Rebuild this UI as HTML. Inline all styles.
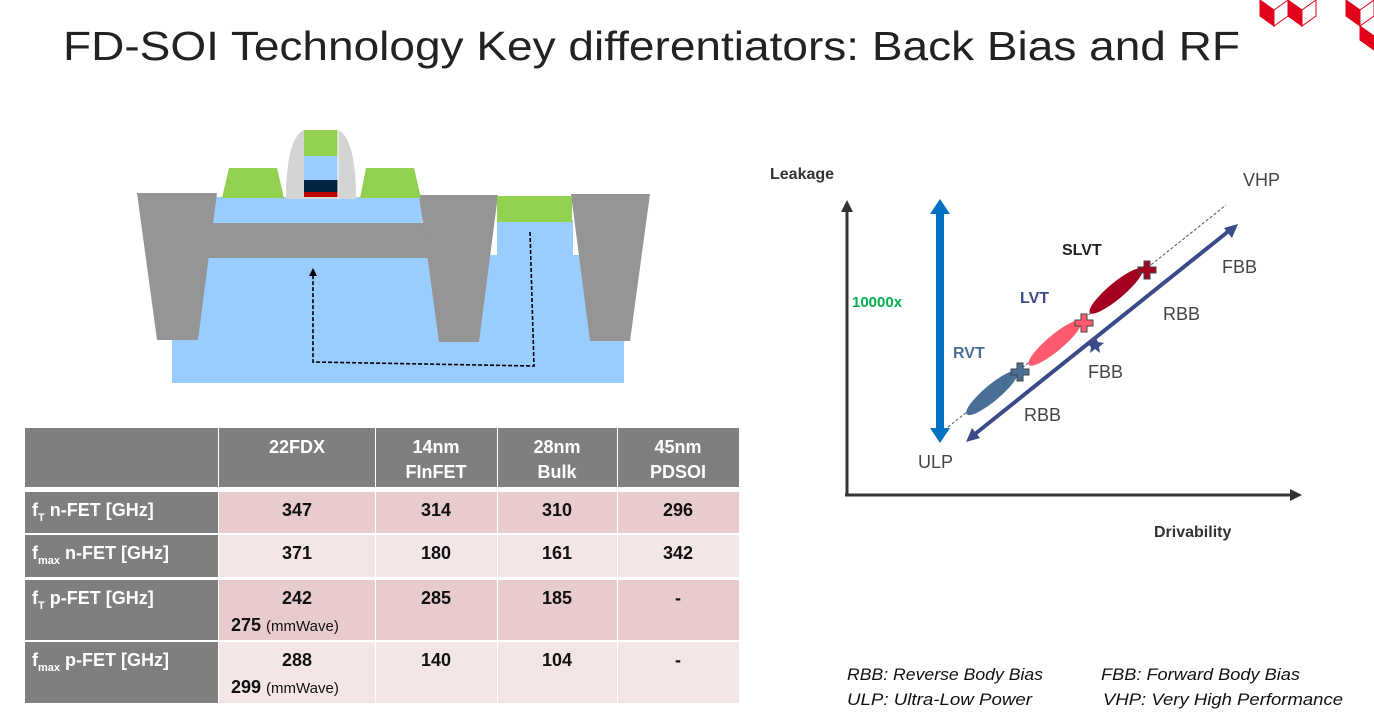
<!DOCTYPE html>
<html><head><meta charset="utf-8"><style>
html,body{margin:0;padding:0;background:#fff;}
svg{display:block;}
</style></head><body>
<svg width="1374" height="720" viewBox="0 0 1374 720" xmlns="http://www.w3.org/2000/svg">
<defs>
<marker id="ah" markerWidth="8" markerHeight="8" refX="4" refY="4" orient="auto" markerUnits="userSpaceOnUse"><path d="M0,0 L8,4 L0,8 z" fill="#000"/></marker>
</defs>
<text x="63" y="60" font-family="Liberation Sans, sans-serif" font-size="41" fill="#222" textLength="1177" lengthAdjust="spacingAndGlyphs">FD-SOI Technology Key differentiators: Back Bias and RF</text>
<g fill="#e2001a" stroke="#e2001a" stroke-width="1">
<polygon points="1260,0 1274,10 1274,26 1260,16"/>
<polygon points="1274,10 1288,0 1288,16 1274,26" fill="#fff"/>
<polygon points="1288,0 1302,10 1302,26 1288,16"/>
<polygon points="1302,10 1316,0 1316,16 1302,26" fill="#fff"/>
<polygon points="1346,0 1360,10 1360,26 1346,16"/>
<polygon points="1360,10 1374,0 1374,16 1360,26" fill="#fff"/>
<polygon points="1360,26 1374,36 1374,50 1360,40"/>
</g>
<rect x="172" y="255" width="452" height="128" fill="#99ccff"/>
<rect x="497" y="220" width="76" height="40" fill="#99ccff"/>
<rect x="213" y="197" width="209" height="27" fill="#99ccff"/>
<rect x="208" y="223" width="222" height="35" fill="#959595"/>
<polygon points="137,193 217,193 198,340 157,340" fill="#959595"/>
<polygon points="419,195 498,195 479,342 439,342" fill="#959595"/>
<polygon points="571,194 650,194 630,341 590,341" fill="#959595"/>
<rect x="497" y="196" width="75" height="26" fill="#92d050"/>
<polygon points="229,168 277,168 284,198 222,198" fill="#92d050"/>
<polygon points="366,168 414,168 421,198 360,198" fill="#92d050"/>
<path d="M286,199 C286,160 292,135 304,130 L338,130 C350,135 356,160 356,199 Z" fill="#d4d4d4"/>
<rect x="304" y="130" width="34" height="26" fill="#92d050"/>
<rect x="304" y="156" width="34" height="24" fill="#99ccff"/>
<rect x="304" y="180" width="34" height="12" fill="#00233f"/>
<rect x="304" y="192" width="34" height="5" fill="#c00000"/>
<line x1="338" y1="130" x2="338" y2="199" stroke="#fff" stroke-width="1"/>
<path d="M530,232 L534,366 L313,362 L313,272" fill="none" stroke="#000" stroke-width="1.6" stroke-dasharray="4,2" marker-end="url(#ah)"/>
<g font-family="Liberation Sans, sans-serif" font-weight="bold">
<rect x="25" y="428" width="193" height="59" fill="#7f7f7f"/>
<rect x="219" y="428" width="156" height="59" fill="#7f7f7f"/>
<rect x="376" y="428" width="121" height="59" fill="#7f7f7f"/>
<rect x="498" y="428" width="119" height="59" fill="#7f7f7f"/>
<rect x="618" y="428" width="121" height="59" fill="#7f7f7f"/>
<rect x="25" y="492" width="193" height="41" fill="#7f7f7f"/>
<rect x="25" y="535" width="193" height="42" fill="#7f7f7f"/>
<rect x="25" y="580" width="193" height="60" fill="#7f7f7f"/>
<rect x="25" y="642" width="193" height="61" fill="#7f7f7f"/>
<g fill="#e8cbcd">
<rect x="219" y="492" width="156" height="41"/><rect x="376" y="492" width="121" height="41"/><rect x="498" y="492" width="119" height="41"/><rect x="618" y="492" width="121" height="41"/>
<rect x="219" y="580" width="156" height="60"/><rect x="376" y="580" width="121" height="60"/><rect x="498" y="580" width="119" height="60"/><rect x="618" y="580" width="121" height="60"/>
</g>
<g fill="#f4e6e7">
<rect x="219" y="535" width="156" height="42"/><rect x="376" y="535" width="121" height="42"/><rect x="498" y="535" width="119" height="42"/><rect x="618" y="535" width="121" height="42"/>
<rect x="219" y="642" width="156" height="61"/><rect x="376" y="642" width="121" height="61"/><rect x="498" y="642" width="119" height="61"/><rect x="618" y="642" width="121" height="61"/>
</g>
<g fill="#fff" font-size="18" text-anchor="middle">
<text x="297" y="453">22FDX</text>
<text x="436" y="453">14nm</text><text x="436" y="478">FInFET</text>
<text x="557" y="453">28nm</text><text x="557" y="478">Bulk</text>
<text x="678" y="453">45nm</text><text x="678" y="478">PDSOI</text>
</g>
<g fill="#fff" font-size="18">
<text x="32" y="516">f<tspan font-size="11" dy="5">T</tspan><tspan dy="-5"> n-FET [GHz]</tspan></text>
<text x="32" y="559">f<tspan font-size="11" dy="5">max</tspan><tspan dy="-5"> n-FET [GHz]</tspan></text>
<text x="32" y="604">f<tspan font-size="11" dy="5">T</tspan><tspan dy="-5"> p-FET [GHz]</tspan></text>
<text x="32" y="666">f<tspan font-size="11" dy="5">max</tspan><tspan dy="-5"> p-FET [GHz]</tspan></text>
</g>
<g fill="#111" font-size="18" text-anchor="middle">
<text x="297" y="516">347</text><text x="436" y="516">314</text><text x="557" y="516">310</text><text x="678" y="516">296</text>
<text x="297" y="559">371</text><text x="436" y="559">180</text><text x="557" y="559">161</text><text x="678" y="559">342</text>
<text x="297" y="604">242</text><text x="436" y="604">285</text><text x="557" y="604">185</text><text x="678" y="604">-</text>
<text x="297" y="666">288</text><text x="436" y="666">140</text><text x="557" y="666">104</text><text x="678" y="666">-</text>
</g>
<g fill="#111" font-size="18">
<text x="231" y="631">275 <tspan font-weight="normal" font-size="15">(mmWave)</tspan></text>
<text x="231" y="693">299 <tspan font-weight="normal" font-size="15">(mmWave)</tspan></text>
</g>
</g>
<g font-family="Liberation Sans, sans-serif">
<line x1="847" y1="495" x2="847" y2="210" stroke="#333" stroke-width="3"/>
<polygon points="841,212 853,212 847,200" fill="#333"/>
<line x1="845" y1="495" x2="1292" y2="495" stroke="#333" stroke-width="3"/>
<polygon points="1290,489 1290,501 1302,495" fill="#333"/>
<text x="770" y="179" font-size="16" font-weight="bold" fill="#333">Leakage</text>
<text x="1154" y="537" font-size="16" font-weight="bold" fill="#333">Drivability</text>
<line x1="940" y1="212" x2="940" y2="430" stroke="#0070c0" stroke-width="8"/>
<polygon points="930,214 950,214 940,199" fill="#0070c0"/>
<polygon points="930,428 950,428 940,443" fill="#0070c0"/>
<text x="852" y="307" font-size="15" font-weight="bold" fill="#00b050">10000x</text>
<line x1="948" y1="427" x2="1226" y2="205" stroke="#555" stroke-width="1" stroke-dasharray="3,2"/>
<ellipse cx="992" cy="393" rx="33" ry="8" transform="rotate(-40 992 393)" fill="#4a6f96"/>
<ellipse cx="1055" cy="343" rx="34" ry="8" transform="rotate(-40 1055 343)" fill="#ff5a6e"/>
<ellipse cx="1116" cy="291" rx="34" ry="8" transform="rotate(-40 1116 291)" fill="#a50021"/>
<g stroke="#444" stroke-width="1">
<path d="M1017,363 h6 v6 h6 v6 h-6 v6 h-6 v-6 h-6 v-6 h6 z" fill="#4a6f96"/>
<path d="M1081,314 h6 v6 h6 v6 h-6 v6 h-6 v-6 h-6 v-6 h6 z" fill="#ff5a6e"/>
<path d="M1144,261 h6 v6 h6 v6 h-6 v6 h-6 v-6 h-6 v-6 h6 z" fill="#a50021"/>
</g>
<line x1="975" y1="434" x2="1230" y2="230" stroke="#3c4a8a" stroke-width="4"/>
<polygon points="966,442 972,428 980,438" fill="#3c4a8a"/>
<polygon points="1238,224 1224,228 1232,238" fill="#3c4a8a"/>
<polygon points="1095,336 1098,342 1104,343 1099,347 1100,353 1095,349 1090,353 1091,347 1086,343 1092,342" fill="#3c4a8a"/>
<g font-size="16" font-weight="bold">
<text x="953" y="358" fill="#4a6f96">RVT</text>
<text x="1020" y="303" fill="#3c4a8a">LVT</text>
<text x="1062" y="255" fill="#222">SLVT</text>
</g>
<g font-size="18" fill="#444">
<text x="1222" y="273">FBB</text>
<text x="1163" y="320">RBB</text>
<text x="1088" y="378">FBB</text>
<text x="1024" y="421">RBB</text>
<text x="918" y="468">ULP</text>
<text x="1243" y="186">VHP</text>
</g>
<g font-size="17" font-style="italic" fill="#111">
<text x="847" y="680" textLength="196" lengthAdjust="spacingAndGlyphs">RBB: Reverse Body Bias</text>
<text x="1101" y="680" textLength="199" lengthAdjust="spacingAndGlyphs">FBB: Forward Body Bias</text>
<text x="847" y="705" textLength="185" lengthAdjust="spacingAndGlyphs">ULP: Ultra-Low Power</text>
<text x="1103" y="705" textLength="240" lengthAdjust="spacingAndGlyphs">VHP: Very High Performance</text>
</g>
</g>
</svg>
</body></html>
